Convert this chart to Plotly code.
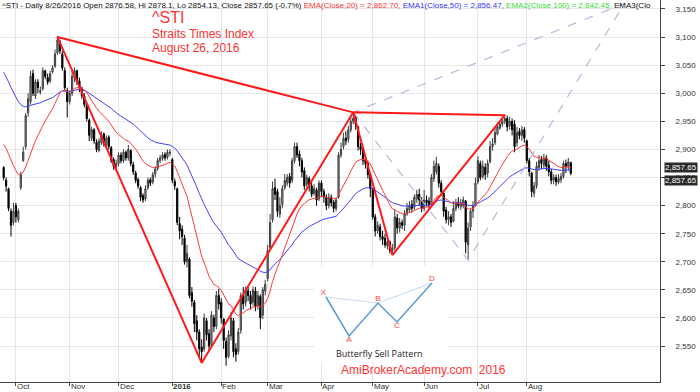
import pandas as pd
import plotly.graph_objects as go

# ---------------- trading calendar (SGX) ----------------
holidays = ["2015-09-24", "2015-11-10", "2015-12-25", "2016-01-01", "2016-02-08",
            "2016-02-09", "2016-03-25", "2016-05-02", "2016-07-06", "2016-08-09"]
trading_days = [d.strftime("%Y-%m-%d") for d in pd.bdate_range("2015-09-23", "2016-10-21")
                if d.strftime("%Y-%m-%d") not in holidays]

# ---------------- daily OHLC ----------------
open_sep = [2868, 2845, 2830, 2790, 2770]
high_sep = [2870, 2850, 2832, 2795, 2805]
low_sep = [2845, 2825, 2790, 2745, 2765]
close_sep = [2850, 2835, 2795, 2765, 2790]

open_oct = [2800, 2775, 2832, 2880, 2905, 2965, 2985, 3035, 2995, 3020, 3002, 3008, 3040, 3028, 3022, 3038, 3048, 3072, 3092, 3070, 3040, 3005]
high_oct = [2805, 2795, 2860, 2905, 2965, 3000, 3040, 3042, 3025, 3025, 3012, 3046, 3042, 3035, 3040, 3050, 3078, 3102, 3095, 3075, 3046, 3010]
low_oct = [2770, 2770, 2828, 2878, 2900, 2958, 2980, 2995, 2990, 3000, 2998, 3005, 3025, 3015, 3018, 3035, 3045, 3068, 3070, 3040, 3005, 2957]
close_oct = [2780, 2790, 2855, 2895, 2960, 2990, 3030, 3000, 3020, 3010, 3005, 3040, 3030, 3020, 3035, 3045, 3070, 3095, 3075, 3045, 3010, 2985]

open_nov = [2985, 3000, 3028, 3040, 3022, 3008, 2995, 2980, 2952, 2920, 2935, 2913, 2898, 2912, 2928, 2908, 2922, 2903, 2882, 2868]
high_nov = [3005, 3040, 3046, 3042, 3028, 3012, 3000, 2982, 2955, 2940, 2938, 2918, 2920, 2932, 2930, 2925, 2925, 2906, 2886, 2882]
low_nov = [2980, 2995, 3020, 3015, 3002, 2990, 2975, 2950, 2915, 2915, 2910, 2895, 2895, 2908, 2905, 2902, 2900, 2876, 2864, 2862]
close_nov = [3000, 3030, 3040, 3020, 3010, 2995, 2980, 2955, 2925, 2935, 2915, 2900, 2915, 2925, 2910, 2920, 2905, 2880, 2870, 2875]

open_dec = [2875, 2890, 2880, 2895, 2885, 2898, 2873, 2858, 2846, 2832, 2818, 2812, 2832, 2846, 2842, 2856, 2866, 2880, 2884, 2891, 2886, 2893]
high_dec = [2895, 2895, 2900, 2898, 2908, 2900, 2878, 2862, 2850, 2835, 2822, 2836, 2850, 2850, 2860, 2870, 2885, 2890, 2895, 2895, 2900, 2900]
low_dec = [2870, 2875, 2876, 2880, 2880, 2870, 2855, 2840, 2830, 2808, 2805, 2808, 2828, 2835, 2838, 2850, 2862, 2876, 2880, 2880, 2882, 2888]
close_dec = [2890, 2880, 2895, 2885, 2900, 2875, 2860, 2845, 2835, 2815, 2810, 2830, 2845, 2840, 2855, 2865, 2880, 2885, 2890, 2885, 2895, 2895]

open_jan = [2882, 2843, 2830, 2768, 2758, 2742, 2700, 2705, 2645, 2628, 2595, 2575, 2548, 2545, 2595, 2572, 2552, 2600, 2585, 2640]
high_jan = [2885, 2848, 2832, 2780, 2765, 2748, 2730, 2708, 2655, 2632, 2605, 2580, 2562, 2608, 2600, 2580, 2612, 2606, 2648, 2652]
low_jan = [2840, 2828, 2765, 2740, 2730, 2695, 2690, 2635, 2620, 2575, 2560, 2530, 2520, 2540, 2560, 2540, 2548, 2575, 2580, 2615]
close_jan = [2845, 2835, 2770, 2755, 2745, 2700, 2715, 2640, 2630, 2590, 2575, 2545, 2540, 2600, 2570, 2550, 2605, 2585, 2640, 2625]

open_feb = [2628, 2598, 2558, 2532, 2568, 2595, 2545, 2540, 2578, 2640, 2628, 2648, 2640, 2628, 2648, 2622, 2638, 2605, 2648]
high_feb = [2635, 2600, 2565, 2578, 2610, 2600, 2555, 2582, 2645, 2655, 2656, 2655, 2648, 2656, 2655, 2648, 2642, 2655, 2668]
low_feb = [2590, 2545, 2515, 2528, 2560, 2530, 2522, 2535, 2572, 2615, 2620, 2630, 2615, 2622, 2612, 2615, 2580, 2598, 2640]
close_feb = [2600, 2560, 2530, 2570, 2600, 2540, 2535, 2575, 2640, 2625, 2650, 2640, 2625, 2650, 2620, 2640, 2600, 2650, 2660]

open_mar = [2670, 2725, 2775, 2832, 2825, 2785, 2802, 2832, 2840, 2852, 2845, 2880, 2905, 2892, 2880, 2862, 2838, 2848, 2835, 2822, 2828, 2812]
high_mar = [2730, 2785, 2843, 2848, 2830, 2815, 2836, 2856, 2856, 2858, 2885, 2912, 2912, 2898, 2885, 2868, 2855, 2852, 2842, 2838, 2832, 2845]
low_mar = [2665, 2720, 2770, 2810, 2780, 2778, 2795, 2828, 2835, 2832, 2840, 2875, 2885, 2870, 2850, 2828, 2832, 2825, 2815, 2818, 2800, 2808]
close_mar = [2720, 2770, 2830, 2820, 2790, 2800, 2830, 2845, 2850, 2840, 2880, 2905, 2890, 2880, 2860, 2835, 2850, 2835, 2820, 2830, 2810, 2840]

open_apr = [2840, 2825, 2815, 2800, 2815, 2806, 2795, 2815, 2890, 2905, 2920, 2918, 2935, 2950, 2958, 2940, 2905, 2900, 2882, 2875, 2855]
high_apr = [2845, 2830, 2820, 2822, 2820, 2810, 2815, 2895, 2912, 2930, 2932, 2942, 2958, 2966, 2962, 2942, 2912, 2905, 2888, 2880, 2858]
low_apr = [2815, 2805, 2792, 2795, 2798, 2788, 2790, 2812, 2885, 2900, 2908, 2912, 2930, 2945, 2935, 2898, 2890, 2872, 2866, 2848, 2815]
close_apr = [2825, 2815, 2800, 2815, 2805, 2795, 2810, 2890, 2900, 2920, 2915, 2935, 2950, 2955, 2945, 2905, 2900, 2880, 2875, 2855, 2830]

open_may = [2830, 2780, 2755, 2762, 2745, 2742, 2728, 2735, 2720, 2725, 2778, 2760, 2770, 2765, 2785, 2792, 2802, 2797, 2812, 2820, 2810]
high_may = [2832, 2785, 2772, 2768, 2755, 2750, 2745, 2738, 2732, 2792, 2785, 2778, 2775, 2792, 2805, 2808, 2810, 2820, 2828, 2830, 2815]
low_may = [2775, 2745, 2750, 2738, 2730, 2725, 2722, 2715, 2712, 2720, 2750, 2752, 2758, 2755, 2782, 2788, 2788, 2792, 2805, 2800, 2788]
close_may = [2780, 2755, 2765, 2745, 2740, 2730, 2735, 2720, 2725, 2780, 2760, 2770, 2765, 2785, 2795, 2800, 2795, 2815, 2820, 2810, 2795]

open_jun = [2795, 2810, 2808, 2802, 2848, 2860, 2870, 2840, 2822, 2792, 2775, 2780, 2772, 2795, 2806, 2798, 2800, 2808, 2730, 2762, 2790, 2800]
high_jun = [2828, 2818, 2815, 2856, 2880, 2887, 2875, 2845, 2826, 2798, 2790, 2785, 2808, 2812, 2815, 2812, 2816, 2810, 2770, 2795, 2808, 2850]
low_jun = [2790, 2798, 2792, 2800, 2842, 2855, 2832, 2818, 2780, 2768, 2765, 2762, 2770, 2790, 2795, 2792, 2795, 2715, 2703, 2755, 2778, 2798]
close_jun = [2810, 2805, 2800, 2850, 2870, 2875, 2840, 2825, 2790, 2775, 2780, 2770, 2795, 2805, 2800, 2805, 2810, 2735, 2760, 2790, 2800, 2840]

open_jul = [2842, 2875, 2852, 2868, 2858, 2878, 2905, 2912, 2928, 2938, 2945, 2950, 2955, 2942, 2950, 2945, 2912, 2932, 2925, 2935]
high_jul = [2888, 2880, 2880, 2875, 2882, 2915, 2920, 2940, 2948, 2950, 2958, 2962, 2960, 2958, 2955, 2952, 2940, 2938, 2942, 2940]
low_jul = [2838, 2845, 2848, 2846, 2850, 2875, 2898, 2908, 2925, 2935, 2940, 2945, 2932, 2935, 2925, 2895, 2905, 2918, 2915, 2912]
close_jul = [2880, 2850, 2870, 2855, 2875, 2905, 2910, 2930, 2940, 2945, 2950, 2955, 2940, 2950, 2935, 2905, 2930, 2925, 2935, 2920]

open_aug = [2915, 2880, 2858, 2822, 2835, 2868, 2882, 2872, 2885, 2872, 2860, 2845, 2850, 2842, 2846, 2852, 2875, 2870, 2876.58]
high_aug = [2918, 2885, 2860, 2842, 2878, 2890, 2888, 2892, 2890, 2880, 2865, 2856, 2855, 2856, 2858, 2880, 2882, 2885, 2878.1]
low_aug = [2875, 2852, 2815, 2815, 2830, 2862, 2865, 2866, 2862, 2852, 2838, 2838, 2835, 2838, 2840, 2848, 2858, 2862, 2854.13]
close_aug = [2880, 2860, 2825, 2835, 2870, 2880, 2875, 2885, 2870, 2860, 2845, 2850, 2842, 2848, 2852, 2875, 2870, 2878, 2857.65]

# EMA values at the left edge of the chart (history before the first bar)
ema20_seed = 2915
ema50_seed = 3045

# Harmonic (butterfly) pattern points drawn on the chart
pattern_dates = ["2015-10-26", "2016-01-20", "2016-04-20", "2016-05-13", "2016-07-19"]
pattern_prices = [3100, 2520, 2966, 2712, 2961]
projection_dates = ["2016-04-20", "2016-06-27", "2016-09-27", "2016-04-20"]
projection_prices = [2966, 2703, 3160, 2966]

# Inset schematic of the butterfly pattern
inset_labels = ["X", "A", "B", "C", "D"]
inset_t = [0, 23, 52, 71, 106]
inset_p = [39, 0, 33, 14, 53]

y_ticks = list(range(2550, 3151, 50))

# ---------------- assemble ----------------
opens = open_sep + open_oct + open_nov + open_dec + open_jan + open_feb + open_mar + open_apr + open_may + open_jun + open_jul + open_aug
highs = high_sep + high_oct + high_nov + high_dec + high_jan + high_feb + high_mar + high_apr + high_may + high_jun + high_jul + high_aug
lows = low_sep + low_oct + low_nov + low_dec + low_jan + low_feb + low_mar + low_apr + low_may + low_jun + low_jul + low_aug
closes = close_sep + close_oct + close_nov + close_dec + close_jan + close_feb + close_mar + close_apr + close_may + close_jun + close_jul + close_aug
n = len(closes)
dates = trading_days[:n]
idx = list(range(n))
day_index = {d: i for i, d in enumerate(trading_days)}


def ema(values, span, seed):
    a = 2.0 / (span + 1)
    out, e = [], seed
    for v in values:
        e = e + a * (v - e)
        out.append(e)
    return out


ema20 = ema(closes, 20, ema20_seed)
ema50 = ema(closes, 50, ema50_seed)

FONT = "Liberation Sans, Arial, sans-serif"
RED = "#ff3333"

fig = go.Figure()
fig.add_trace(go.Scatter(x=idx, y=ema50, mode="lines", line=dict(color="#4040ff", width=1), hoverinfo="skip"))
fig.add_trace(go.Scatter(x=idx, y=ema20, mode="lines", line=dict(color="#ff3a3a", width=1), hoverinfo="skip"))
fig.add_trace(go.Candlestick(
    x=idx, open=opens, high=highs, low=lows, close=closes,
    increasing=dict(fillcolor="#a3a3a3", line=dict(color="#3c3c3c", width=1)),
    decreasing=dict(fillcolor="#000000", line=dict(color="#000000", width=1)),
    whiskerwidth=0, hoverinfo="skip"))

fig.add_trace(go.Scatter(
    x=[day_index[d] for d in projection_dates], y=projection_prices, mode="lines",
    line=dict(color="#bdb6dc", width=1.2, dash="dash"), hoverinfo="skip", cliponaxis=True))

zig = [0, 1, 2, 3, 4, 2, 0]
fig.add_trace(go.Scatter(
    x=[day_index[pattern_dates[k]] for k in zig], y=[pattern_prices[k] for k in zig],
    mode="lines", line=dict(color="#ff1a1a", width=2), hoverinfo="skip"))

# inset schematic
fig.add_trace(go.Scatter(
    x=[inset_t[0], inset_t[2], inset_t[4]], y=[inset_p[0], inset_p[2], inset_p[4]],
    xaxis="x2", yaxis="y2", mode="lines", line=dict(color="#c8dcf2", width=1.2), hoverinfo="skip"))
fig.add_trace(go.Scatter(
    x=inset_t, y=inset_p, xaxis="x2", yaxis="y2", mode="lines+text", text=inset_labels,
    textposition=["top left", "bottom center", "top center", "bottom center", "top center"],
    textfont=dict(family=FONT, size=8, color="#ff3b3b"),
    line=dict(color="#5b9bd5", width=1.5), hoverinfo="skip", cliponaxis=False))

month_ticks, month_text = [], []
for i in range(1, n):
    if dates[i][5:7] != dates[i - 1][5:7]:
        month_ticks.append(i)
        ts = pd.Timestamp(dates[i])
        month_text.append("<b>%d</b>" % ts.year if ts.month == 1 else ts.strftime("%b"))

annotations = []
for t, s in zip(month_ticks, month_text):
    annotations.append(dict(x=t, xref="x", y=0, yref="paper", xanchor="left", yanchor="top",
                            xshift=0, yshift=1, borderpad=0, text=s, showarrow=False,
                            font=dict(family=FONT, size=8, color="#333333")))

header = ("^STI - Daily 8/26/2016 Open 2876.58, Hi 2878.1, Lo 2854.13, Close 2857.65 (-0.7%) "
          "<span style='color:#ff3030'>EMA(Close,20) = 2,862.70, </span>"
          "<span style='color:#3535ff'>EMA1(Close,50) = 2,856.47, </span>"
          "<span style='color:#33dd33'>EMA2(Close,100) = 2,842.45, </span>"
          "EMA3(Clo")
annotations.append(dict(x=0, xref="paper", y=1, yref="paper", xanchor="left", yanchor="top",
                        xshift=1, yshift=0, borderpad=0, text=header, showarrow=False,
                        font=dict(family=FONT, size=8, color="#111111")))
title_lines = [("^STI", 16, 18), ("Straits Times Index", 12, 34), ("August 26, 2016", 12, 48)]
for txt, sz, ypix in title_lines:
    annotations.append(dict(x=151 / 660, xref="paper", y=1 - ypix / 382, yref="paper",
                            xanchor="left", yanchor="middle", text=txt, showarrow=False, borderpad=0,
                            font=dict(family=FONT, size=sz, color=RED)))
annotations.append(dict(x=339 / 660, xref="paper", y=1 - 370 / 382, yref="paper",
                        xanchor="left", yanchor="middle", text="AmiBrokerAcademy.com  2016",
                        showarrow=False, font=dict(family=FONT, size=12, color=RED)))
annotations.append(dict(x=53.5, xref="x2", y=-17, yref="y2", xanchor="center", yanchor="middle",
                        text="Butterfly Sell Pattern", showarrow=False,
                        font=dict(family="Open Sans, sans-serif", size=9, color="#222222")))
last_close = closes[-1]
for ysh in (6, -7):
    annotations.append(dict(x=1, xref="paper", y=last_close, yref="y", xanchor="left", yanchor="middle",
                            xshift=4, yshift=ysh, text="{:,.2f}".format(last_close), showarrow=False,
                            bgcolor="#2a2a2a", borderpad=0,
                            font=dict(family=FONT, size=8, color="#ffffff")))

fig.update_layout(
    width=700, height=392, margin=dict(l=0, r=40, t=0, b=10),
    paper_bgcolor="white", plot_bgcolor="white", showlegend=False,
    font=dict(family=FONT, size=8, color="#333333"),
    xaxis=dict(range=[-1.5, 268.5], tickvals=month_ticks, showticklabels=False,
               ticks="outside", ticklen=3, tickcolor="#444444",
               showgrid=True, gridcolor="#e6e6e6", gridwidth=1,
               showline=True, linecolor="#444444", linewidth=1, zeroline=False,
               rangeslider=dict(visible=False), fixedrange=True),
    yaxis=dict(range=[2486, 3166], side="right", tickvals=y_ticks,
               ticktext=["{:,}".format(v) for v in y_ticks],
               ticks="outside", ticklen=4, tickcolor="#444444", ticklabelstandoff=9,
               tickfont=dict(family=FONT, size=8, color="#333333"),
               showgrid=True, gridcolor="#e6e6e6", gridwidth=1,
               showline=True, linecolor="#444444", linewidth=1, zeroline=False,
               automargin=False, fixedrange=True),
    xaxis2=dict(domain=[314 / 660, 448 / 660], range=[-12, 122], visible=False, anchor="y2",
                fixedrange=True),
    yaxis2=dict(domain=[1 - 362 / 382, 1 - 266 / 382], range=[-26, 70], visible=False, anchor="x2",
                fixedrange=True),
    shapes=[dict(type="rect", xref="x2", yref="y2", x0=-12, x1=122, y0=-26, y1=70,
                 fillcolor="white", line=dict(width=0), layer="below")],
    annotations=annotations,
)

fig.write_html("out.html", config={"displayModeBar": False},
               post_script="document.body.style.margin='0px';document.body.style.overflow='hidden';")
